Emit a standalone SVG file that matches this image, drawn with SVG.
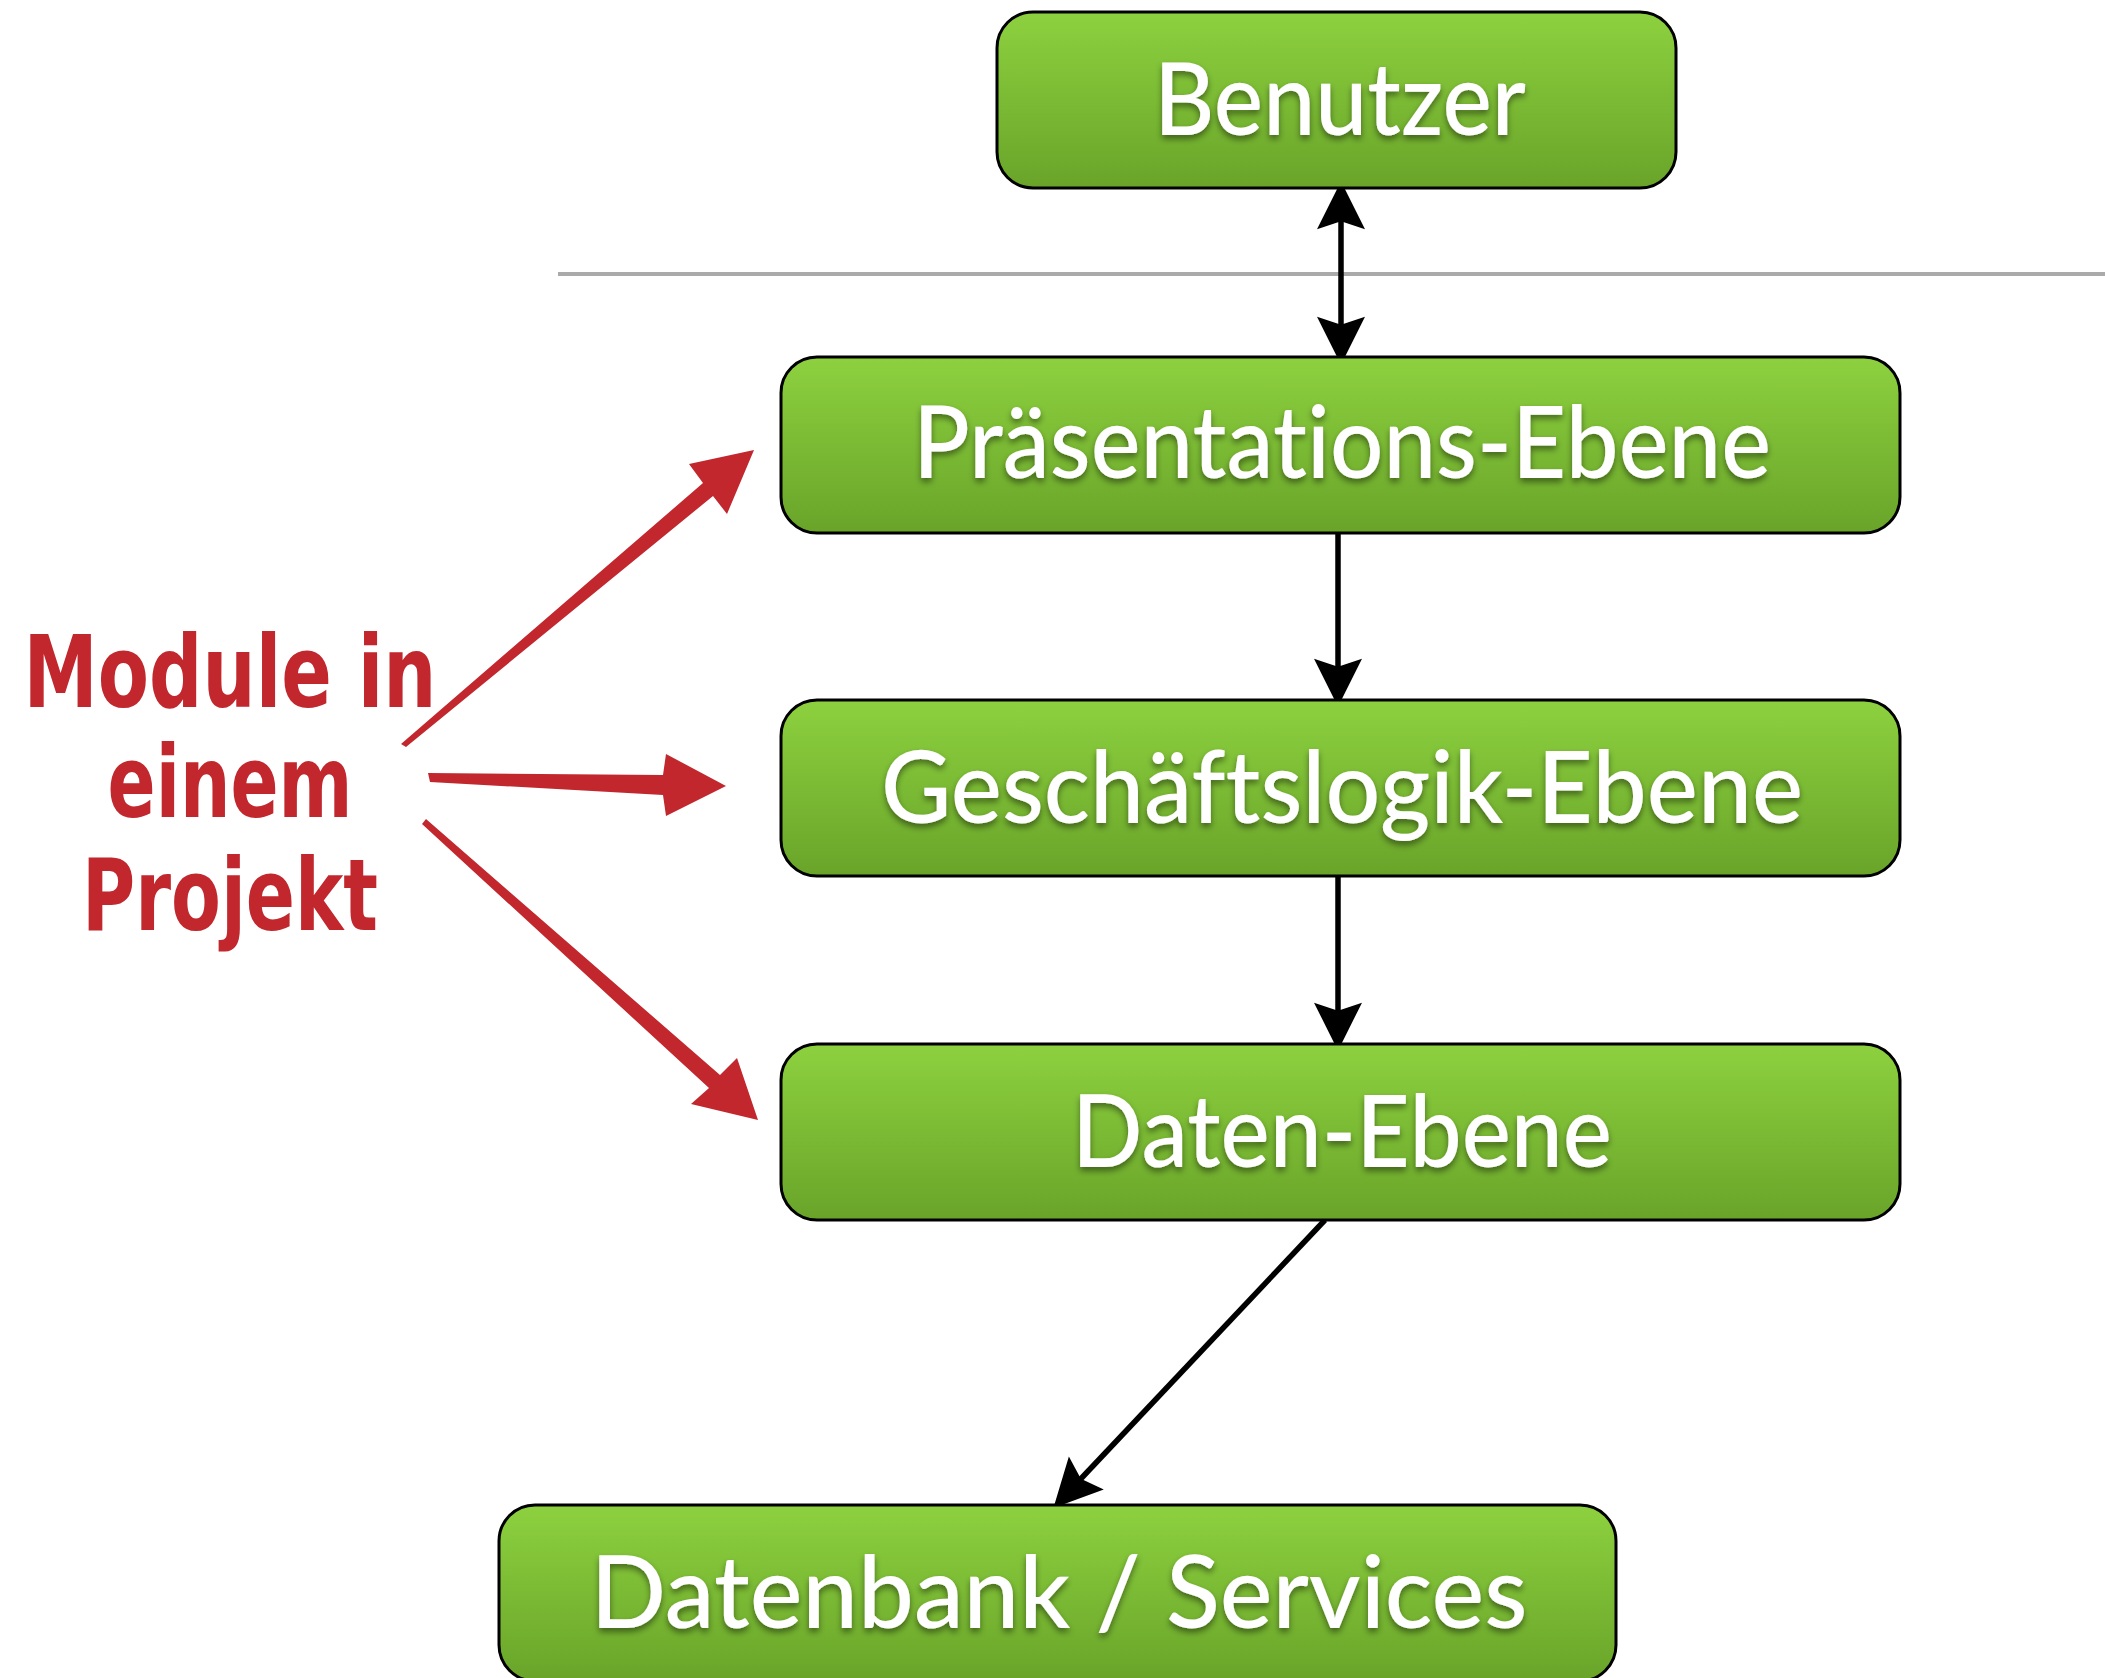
<svg xmlns="http://www.w3.org/2000/svg" width="2105" height="1678" viewBox="0 0 2105 1678">
<defs>
<linearGradient id="g" x1="0" y1="0" x2="0" y2="1">
<stop offset="0" stop-color="#8dd13f"/>
<stop offset="1" stop-color="#69a429"/>
</linearGradient>
<filter id="ts" x="-10%" y="-30%" width="120%" height="160%">
<feDropShadow dx="0" dy="4" stdDeviation="3" flood-color="#000" flood-opacity="0.45"/>
</filter>
<marker id="ah" markerUnits="userSpaceOnUse" markerWidth="60" markerHeight="60" viewBox="-20 -20 45 40" refX="0" refY="0" orient="auto-start-reverse" overflow="visible">
<path d="M20,0 L-16,-18 L-10,0 L-16,18 Z" fill="#000"/>
</marker>
<style>
.box{fill:url(#g);stroke:#000;stroke-width:3}
.lbl{font-family:"Lato","Noto Sans","Liberation Sans",sans-serif;font-weight:500;font-size:100px;fill:#fff;text-anchor:middle;filter:url(#ts);font-variant-ligatures:none;font-feature-settings:"liga" 0}
.con{stroke:#000;stroke-width:5.5;fill:none;marker-end:url(#ah)}
.red{fill:#c1272d}
.note{font-family:"Liberation Sans Narrow","DejaVu Sans Condensed","Liberation Sans",sans-serif;font-weight:bold;font-size:100px;fill:#c1272d;text-anchor:middle}
</style>
</defs>
<rect width="2105" height="1678" fill="#fff"/>
<line x1="558" y1="274" x2="2105" y2="274" stroke="#aaaaaa" stroke-width="4"/>
<g id="connectors">
<line class="con" x1="1341" y1="208" x2="1341" y2="338" style="marker-start:url(#ah)"/>
<line class="con" x1="1338" y1="533" x2="1338" y2="680"/>
<line class="con" x1="1338" y1="876" x2="1338" y2="1024"/>
<line class="con" x1="1325" y1="1220" x2="1071.7" y2="1488.5"/>
</g>
<g id="benutzer">
<rect class="box" x="997" y="12" width="679" height="176" rx="36"/>
<text class="lbl" x="1340" y="135" textLength="372" lengthAdjust="spacingAndGlyphs">Benutzer</text>
</g>
<g id="praesentation">
<rect class="box" x="781" y="357" width="1119" height="176" rx="36"/>
<text class="lbl" x="1342" y="478" textLength="858" lengthAdjust="spacingAndGlyphs">Präsentations-Ebene</text>
</g>
<g id="geschaeftslogik">
<rect class="box" x="781" y="700" width="1119" height="176" rx="36"/>
<text class="lbl" x="1342" y="823" textLength="922" lengthAdjust="spacingAndGlyphs">Geschäftslogik-Ebene</text>
</g>
<g id="daten">
<rect class="box" x="781" y="1044" width="1119" height="176" rx="36"/>
<text class="lbl" x="1342" y="1167" textLength="540" lengthAdjust="spacingAndGlyphs">Daten-Ebene</text>
</g>
<g id="datenbank">
<rect class="box" x="499" y="1505" width="1117" height="176" rx="36"/>
<text class="lbl" x="1059" y="1628" textLength="937" lengthAdjust="spacingAndGlyphs">Datenbank / Services</text>
</g>
<g id="module-note">
<text class="note" x="230" y="707" textLength="413" lengthAdjust="spacingAndGlyphs">Module in</text>
<text class="note" x="230" y="817" textLength="245" lengthAdjust="spacingAndGlyphs">einem</text>
<text class="note" x="230" y="930" textLength="296" lengthAdjust="spacingAndGlyphs">Projekt</text>
</g>
<g id="red-arrows">
<polygon class="red" points="401,744 703,483 689,464 754,450 727,514 713,496 406,747"/>
<polygon class="red" points="428,773 663,775 666,754 726,786 666,816 663,795 430,782"/>
<polygon class="red" points="422,824 709,1088 691,1104 758,1120 737,1058 720,1075 426,819"/>
</g>
</svg>
